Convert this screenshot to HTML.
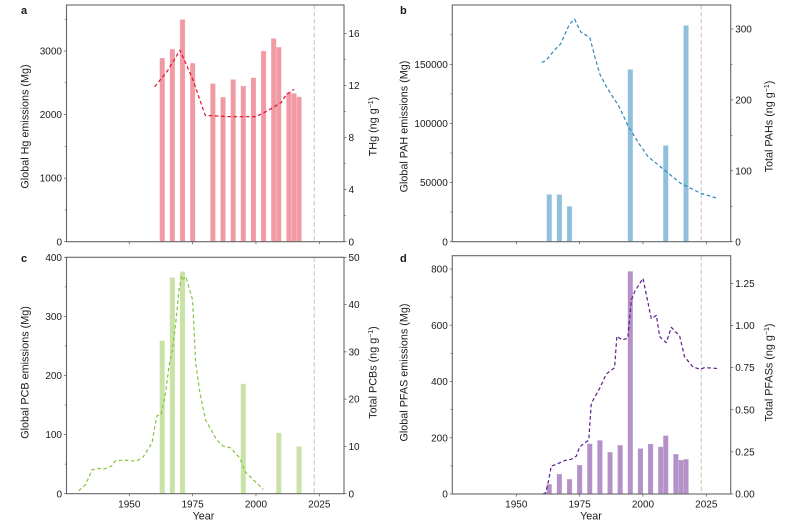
<!DOCTYPE html>
<html lang="en">
<head>
<meta charset="utf-8">
<title>Global emissions and sediment concentrations</title>
<style>
html,body{margin:0;padding:0;background:#fff;width:796px;height:524px;overflow:hidden}
svg{display:block}
text{font-family:"Liberation Sans",Arial,sans-serif;fill:#1a1a1a}
</style>
</head>
<body>
<svg id="chart" width="796" height="524" viewBox="0 0 796 524" xmlns="http://www.w3.org/2000/svg"></svg>
<script>
// ---- data ----
const hgYears = [1963,1967,1971,1975,1983,1987,1991,1995,1999,2003,2007,2009,2013,2015,2017];
const hgEmissions = [2890,3030,3497,2810,2490,2275,2553,2450,2580,3000,3198,3062,2350,2335,2280];
const hgLineYears = [1960,1965,1970,1975,1980,1985,1990,1995,2000,2005,2010,2012,2015];
const hgLineValues = [11.9,13.1,14.7,12.5,9.7,9.65,9.6,9.6,9.6,10.1,10.7,11.3,11.7];

const pahYears = [1963,1967,1971,1995,2009,2017];
const pahEmissions = [40000,40000,30000,145800,81500,183000];
const pahLineYears = [1960,1961.6,1965,1967.5,1971,1973,1975.4,1979,1981,1983,1986,1990.5,1994,1998.3,2002,2008.5,2015,2023,2029.6];
const pahLineValues = [253,255,270,279,307,314,296,288,261,236,216,191,164,139,120,101,82,68,61];

const pcbYears = [1963,1967,1971,1995,2009,2017];
const pcbEmissions = [259,366,376,186,103,80];
const pcbLineYears = [1930,1932.5,1934.2,1935.1,1937.8,1939.7,1943,1944.6,1947.6,1952.9,1955.5,1959,1960.3,1961,1962.6,1964.3,1965.7,1967,1968.3,1969.6,1970.7,1971.3,1972.3,1975,1976.2,1977.9,1980.1,1984.5,1987,1990,1993.7,1995.7,2002.9];
const pcbLineValues = [0.6,1.8,3.6,5,5.36,5.15,5.85,7,7.1,6.9,7.8,10.8,14.9,16.5,16.8,21.2,27.1,30.4,36,43,46.1,45.4,45.9,41,27.6,21.2,15.6,11.4,10.1,9.7,7.5,4.65,0.9];

const pfasYears = [1963,1967,1971,1975,1979,1983,1987,1991,1995,1999,2003,2007,2009,2013,2015,2017];
const pfasEmissions = [35,71,53,103,179,191,149,174,792,162,178,168,208,142,121,124];
const pfasLineYears = [1960.5,1961.6,1962.8,1963.8,1965.8,1969,1971.7,1973.7,1975,1978.6,1979.6,1982.9,1985.5,1988.8,1989.7,1991.7,1994,1995.4,1996.7,2000,2003.3,2005.3,2006.6,2009.2,2011.2,2014.5,2016.4,2019.7,2022.4,2024.3,2029.6];
const pfasLineValues = [0,0.008,0.083,0.166,0.176,0.198,0.206,0.225,0.28,0.32,0.538,0.627,0.712,0.75,0.937,0.914,0.924,1.15,1.2,1.28,1.04,1.06,0.934,0.898,0.989,0.937,0.815,0.755,0.74,0.75,0.745];

const xTickYears = [1950,1975,2000,2025];
const referenceYear = 2023;

const hgLeftTicks = [0,1000,2000,3000];
const hgLeftMinor = [500,1500,2500,3500];
const hgRightTicks = [0,4,8,12,16];
const hgRightMinor = [2,6,10,14];

const pahLeftTicks = [0,50000,100000,150000];
const pahLeftMinor = [25000,75000,125000,175000];
const pahRightTicks = [0,100,200,300];
const pahRightMinor = [50,150,250];

const pcbLeftTicks = [0,100,200,300,400];
const pcbLeftMinor = [50,150,250,350];
const pcbRightTicks = [0,10,20,30,40,50];
const pcbRightMinor = [];

const pfasLeftTicks = [0,200,400,600,800];
const pfasLeftMinor = [100,300,500,700];
const pfasRightTicks = [0,0.25,0.5,0.75,1,1.25];
const pfasRightTickLabels = ['0.00','0.25','0.50','0.75','1.00','1.25'];
const pfasRightMinor = [];

// ---- drawing ----
const NS = 'http://www.w3.org/2000/svg';
const svg = document.getElementById('chart');
const FONT = 10;
const TITLE_FONT = 10.8;

function make(parent, tag, attrs) {
  const el = document.createElementNS(NS, tag);
  for (const k in attrs) el.setAttribute(k, attrs[k]);
  parent.appendChild(el);
  return el;
}

function addLabel(parent, text, x, y, anchor, size, weight, rotate) {
  const t = make(parent, 'text', {x: x, y: y, 'text-anchor': anchor, 'font-size': size});
  if (weight) t.setAttribute('font-weight', weight);
  if (rotate) t.setAttribute('transform', 'rotate(-90 ' + x + ' ' + y + ')');
  t.textContent = text;
  return t;
}

function addUnitLabel(parent, prefix, x, y) {
  const t = make(parent, 'text', {x: x, y: y, 'text-anchor': 'middle', 'font-size': TITLE_FONT, transform: 'rotate(-90 ' + x + ' ' + y + ')'});
  t.appendChild(document.createTextNode(prefix + ' (ng g'));
  const s = make(t, 'tspan', {dy: -3.5, 'font-size': 7});
  s.textContent = '\u22121';
  const e = make(t, 'tspan', {dy: 3.5});
  e.textContent = ')';
  return t;
}

function drawPanel(p) {
  const g = make(svg, 'g', {});
  
  

  const xScale = function (year) { return p.x1950 + (year - 1950) * 2.5333; };
  const yLeft = function (v) { return p.bottom - v * p.leftPerUnit; };
  const yRight = function (v) { return p.bottom - v * p.rightPerUnit; };

  // bars
  const barsG = make(g, 'g', {});
  
  
  p.barYears.forEach(function (yr, i) {
    const top = yLeft(p.barValues[i]);
    const r = make(barsG, 'rect', {x: xScale(yr) - 2.6, y: top, width: 5.2, height: p.bottom - top, fill: p.barColor, stroke: '#fff', 'stroke-opacity': 0.35, 'stroke-width': 0.6});
    
    
  });

  // reference line
  const rx = xScale(referenceYear);
  const ref = make(g, 'line', {x1: rx, x2: rx, y1: p.top, y2: p.bottom, stroke: '#bdbdbd', 'stroke-width': 0.9, 'stroke-dasharray': '4.5,2.5'});
  
  

  // dashed series
  const pts = p.lineYears.map(function (yr, i) {
    return xScale(yr).toFixed(2) + ',' + yRight(p.lineValues[i]).toFixed(2);
  }).join(' ');
  const line = make(g, 'polyline', {points: pts, fill: 'none', stroke: p.lineColor, 'stroke-width': 1.2, 'stroke-dasharray': '3.6,2.6', 'stroke-linejoin': 'round'});
  
  

  // frame
  const frame = make(g, 'rect', {x: p.left, y: p.top, width: p.right - p.left, height: p.bottom - p.top, fill: 'none', stroke: '#666', 'stroke-width': 1.1});
  
  

  // ticks
  const ticks = make(g, 'g', {stroke: '#555', 'stroke-width': 0.7});
  
  
  xTickYears.forEach(function (yr) {
    make(ticks, 'line', {x1: xScale(yr), x2: xScale(yr), y1: p.bottom, y2: p.bottom + 2.6});
  });
  p.leftTicks.forEach(function (v) {
    make(ticks, 'line', {x1: p.left - 2.6, x2: p.left, y1: yLeft(v), y2: yLeft(v)});
  });
  p.leftMinor.forEach(function (v) {
    make(ticks, 'line', {x1: p.left - 1.6, x2: p.left, y1: yLeft(v), y2: yLeft(v)});
  });
  p.rightTicks.forEach(function (v) {
    make(ticks, 'line', {x1: p.right, x2: p.right + 2.6, y1: yRight(v), y2: yRight(v)});
  });
  p.rightMinor.forEach(function (v) {
    make(ticks, 'line', {x1: p.right, x2: p.right + 1.6, y1: yRight(v), y2: yRight(v)});
  });

  // tick labels
  const labels = make(g, 'g', {});
  
  
  p.leftTicks.forEach(function (v) {
    addLabel(labels, String(v), p.left - 4.5, yLeft(v) + 3.6, 'end', FONT);
  });
  p.rightTicks.forEach(function (v, i) {
    const txt = p.rightTickLabels ? p.rightTickLabels[i] : String(v);
    addLabel(labels, txt, p.right + 4.5, yRight(v) + 3.6, 'start', FONT);
  });
  if (p.showX) {
    xTickYears.forEach(function (yr) {
      addLabel(labels, String(yr), xScale(yr), 507.5, 'middle', FONT);
    });
    const xt = addLabel(g, 'Year', p.yearX, 519.5, 'middle', TITLE_FONT);
    
    
  }

  // axis titles
  const yt = addLabel(g, p.leftTitle, p.leftTitleX, p.titleY, 'middle', TITLE_FONT, null, true);
  
  
  const rt = addUnitLabel(g, p.rightTitle, p.rightTitleX, p.titleY);
  
  

  // panel letter
  const letter = addLabel(g, p.id, p.letterX, p.letterY, 'start', 11, 'bold');
  
  
}

drawPanel({
  id: 'a', left: 66.5, right: 344, top: 5, bottom: 241.7, x1950: 129.3,
  leftPerUnit: 0.06356, rightPerUnit: 13.02,
  barYears: hgYears, barValues: hgEmissions, barColor: '#f29aa3',
  lineYears: hgLineYears, lineValues: hgLineValues, lineColor: '#e0112d',
  leftTicks: hgLeftTicks, leftMinor: hgLeftMinor, rightTicks: hgRightTicks, rightMinor: hgRightMinor,
  leftTitle: 'Global Hg emissions (Mg)', rightTitle: 'THg',
  leftTitleX: 28.5, rightTitleX: 376.5, titleY: 126.5, letterX: 21, letterY: 14, showX: false
});
drawPanel({
  id: 'b', left: 452.3, right: 730.7, top: 5, bottom: 241.7, x1950: 516.3,
  leftPerUnit: 0.0011822, rightPerUnit: 0.709,
  barYears: pahYears, barValues: pahEmissions, barColor: '#90c0dc',
  lineYears: pahLineYears, lineValues: pahLineValues, lineColor: '#2b88bd',
  leftTicks: pahLeftTicks, leftMinor: pahLeftMinor, rightTicks: pahRightTicks, rightMinor: pahRightMinor,
  leftTitle: 'Global PAH emissions (Mg)', rightTitle: 'Total PAHs',
  leftTitleX: 407.5, rightTitleX: 772.5, titleY: 126.5, letterX: 400, letterY: 14, showX: false
});
drawPanel({
  id: 'c', left: 66.5, right: 344, top: 257.3, bottom: 493.7, x1950: 129.3,
  leftPerUnit: 0.591, rightPerUnit: 4.728,
  barYears: pcbYears, barValues: pcbEmissions, barColor: '#c9e2a6',
  lineYears: pcbLineYears, lineValues: pcbLineValues, lineColor: '#86c440',
  leftTicks: pcbLeftTicks, leftMinor: pcbLeftMinor, rightTicks: pcbRightTicks, rightMinor: pcbRightMinor,
  leftTitle: 'Global PCB emissions (Mg)', rightTitle: 'Total PCBs',
  leftTitleX: 28.5, rightTitleX: 376.5, titleY: 372.5, letterX: 21, letterY: 262, showX: true, yearX: 203.5
});
drawPanel({
  id: 'd', left: 452.3, right: 730.7, top: 255.7, bottom: 494, x1950: 516.3,
  leftPerUnit: 0.28125, rightPerUnit: 168.5,
  barYears: pfasYears, barValues: pfasEmissions, barColor: '#b491c8',
  lineYears: pfasLineYears, lineValues: pfasLineValues, lineColor: '#5b1a8e',
  leftTicks: pfasLeftTicks, leftMinor: pfasLeftMinor, rightTicks: pfasRightTicks, rightTickLabels: pfasRightTickLabels, rightMinor: pfasRightMinor,
  leftTitle: 'Global PFAS emissions (Mg)', rightTitle: 'Total PFASs',
  leftTitleX: 407.5, rightTitleX: 772.5, titleY: 372.5, letterX: 400, letterY: 262, showX: true, yearX: 591
});
</script>
</body>
</html>
